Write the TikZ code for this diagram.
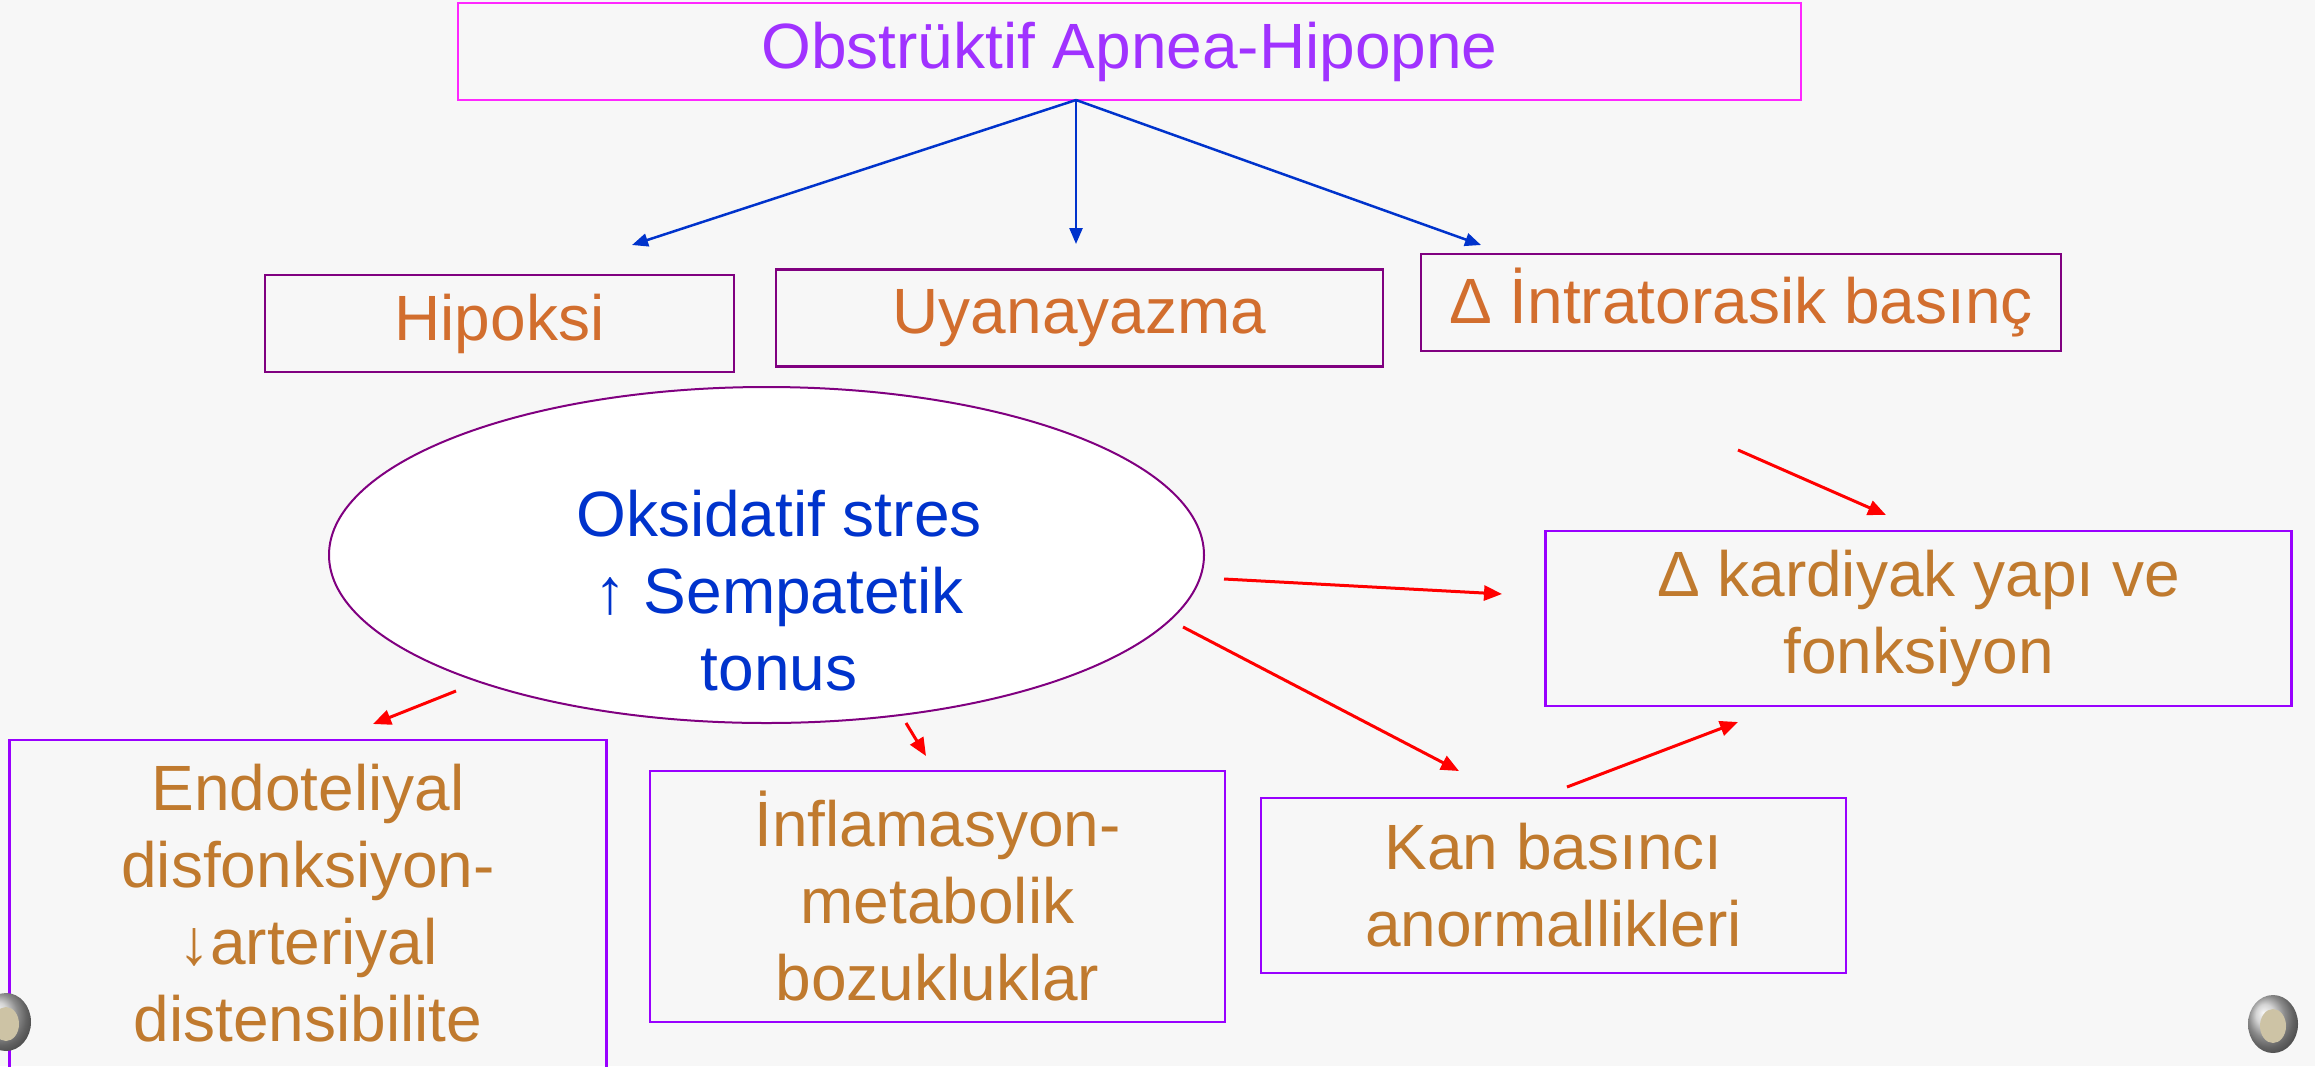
\documentclass[tikz,border=0pt]{standalone}
\usepackage{fontspec}
\setmainfont{Liberation Sans}
\usetikzlibrary{arrows.meta,shapes.geometric,calc}
\definecolor{bgc}{RGB}{247,247,247}
\definecolor{topborder}{RGB}{255,40,255}
\definecolor{toptext}{RGB}{160,50,255}
\definecolor{midborder}{RGB}{128,0,128}
\definecolor{midtext}{RGB}{210,110,46}
\definecolor{lowborder}{RGB}{153,0,255}
\definecolor{lowtext}{RGB}{192,122,46}
\definecolor{elltext}{RGB}{0,51,204}
\definecolor{bluearrc}{RGB}{0,51,204}
\definecolor{redarrc}{RGB}{255,0,0}
\begin{document}
\begin{tikzpicture}[x=1pt,y=-1pt,
  font=\fontsize{64}{77}\selectfont,
  topbox/.style={draw=topborder, line width=2pt, text=toptext, inner sep=0pt, minimum width=1343pt, minimum height=97pt},
  midbox/.style={draw=midborder, line width=2.5pt, text=midtext, inner sep=0pt, minimum height=97pt},
  lowbox/.style={draw=lowborder, line width=2.2pt, text=lowtext, inner sep=0pt, align=center},
  bluearr/.style={draw=bluearrc, line width=2.5pt, -{Triangle[length=16pt,width=13pt]}},
  redarr/.style={draw=redarrc, line width=3pt, -{Triangle[length=18pt,width=15pt]}}
]
\useasboundingbox (0,0) rectangle (2315,1066);
\fill[bgc] (0,0) rectangle (2315,1066);
\clip (0,0) rectangle (2315,1066);

% top
\node[topbox] (oah) at (1129.5,51.5) {Obstrüktif Apnea-Hipopne};

% middle row
\node[midbox, minimum width=469pt] (hip) at (499.5,323.5) {Hipoksi};
\node[midbox, minimum width=607pt] (uya) at (1079.5,318) {Uyanayazma};
\node[midbox, minimum width=640pt] (itb) at (1741,302.5) {Δ İntratorasik basınç};

% ellipse
\node[ellipse, draw=midborder, fill=white, line width=2pt, inner sep=0pt,
      minimum width=875pt, minimum height=336pt] (oks) at (766.5,555) {};
\node[text=elltext, align=center, inner sep=0pt] (okst) at (779,591)
  {Oksidatif stres\\↑ Sempatetik\\tonus};

% lower boxes
\node[lowbox, minimum width=746pt, minimum height=175pt] (kar) at (1918.5,618.5)
  {Δ kardiyak yapı ve\\fonksiyon};
\node[lowbox, minimum width=597pt, minimum height=400pt, anchor=north] (endo) at (308,739) {};
\node[text=lowtext, align=center, inner sep=0pt] (endot) at (308,903)
  {Endoteliyal\\disfonksiyon-\\↓arteriyal\\distensibilite};
\node[lowbox, minimum width=575pt, minimum height=251pt] (inf) at (937.5,896.5)
  {İnflamasyon-\\metabolik\\bozukluklar};
\node[lowbox, minimum width=585pt, minimum height=175pt] (kan) at (1553.5,885.5)
  {Kan basıncı\\anormallikleri};

% blue arrows
\coordinate (bs) at (1076,100);
\coordinate (b1) at (632,245);
\coordinate (b2) at (1076,244);
\coordinate (b3) at (1481,245);
\draw[bluearr] (bs) -- (b1);
\draw[bluearr] (bs) -- (b2);
\draw[bluearr] (bs) -- (b3);

% red arrows
\coordinate (r1s) at (1738,450); \coordinate (r1e) at (1886,515);
\coordinate (r2s) at (1224,579); \coordinate (r2e) at (1502,594);
\coordinate (r3s) at (1183,627); \coordinate (r3e) at (1459,771);
\coordinate (r4s) at (1567,787); \coordinate (r4e) at (1738,722);
\coordinate (r5s) at (456,691);  \coordinate (r5e) at (373,724);
\coordinate (r6s) at (906,723);  \coordinate (r6e) at (926,756);
\draw[redarr] (r1s) -- (r1e);
\draw[redarr] (r2s) -- (r2e);
\draw[redarr] (r3s) -- (r3e);
\draw[redarr] (r4s) -- (r4e);
\draw[redarr] (r5s) -- (r5e);
\draw[redarr] (r6s) -- (r6e);

% navigation buttons
\shade[ball color=gray!45] (2273,1024) ellipse (25pt and 29pt);
\fill[color={rgb,255:red,205;green,195;blue,165}] (2273,1026) ellipse (13pt and 17pt);
\shade[ball color=gray!45] (6,1022) ellipse (25pt and 29pt);
\fill[color={rgb,255:red,205;green,195;blue,165}] (6,1024) ellipse (13pt and 17pt);
\end{tikzpicture}
\end{document}
